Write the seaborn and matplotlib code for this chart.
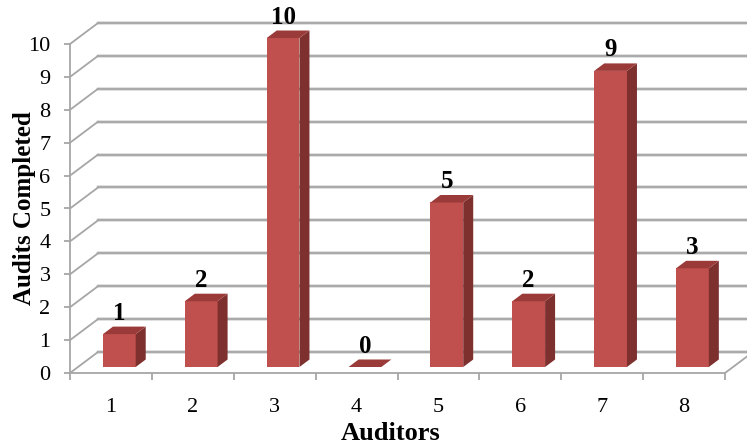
import matplotlib
matplotlib.use('Agg')
import matplotlib.pyplot as plt
from matplotlib.patches import Polygon
import seaborn as sns

# data
auditors = ['1', '2', '3', '4', '5', '6', '7', '8']
audits = [1, 2, 10, 0, 5, 2, 9, 3]
y_ticks = list(range(0, 11))

front_c = '#C0504D'
side_c = '#7D302E'
top_c = '#9A3B39'
grid_c = '#A6A6A6'

sns.set_theme(style='white')
plt.rcParams['font.family'] = ['Liberation Serif', 'DejaVu Serif']

W, H = 747, 448
fig = plt.figure(figsize=(W / 100, H / 100), dpi=100)
ax = fig.add_axes([70 / W, 75 / H, 655 / W, 329 / H])

sns.barplot(x=auditors, y=audits, color=front_c, width=0.4, saturation=1, ax=ax, zorder=3)
ax.set_xlim(-0.5, 7.5)
ax.set_ylim(0, 10)

# pixel -> data unit helpers (axes size fixed above)
ux = 655 / 8
uy = 329 / 10
wall_dx, wall_dy = 28 / ux, 21 / uy      # depth of the 3d box
bar_ox, bar_oy = 8.4 / ux, 6 / uy        # bar front offset into the box
bar_dx, bar_dy = 10 / ux, 7.5 / uy       # bar depth

# back wall + left wall gridlines
for v in y_ticks:
    ax.plot([-0.5 + wall_dx, 7.5 + wall_dx], [v + wall_dy, v + wall_dy],
            color='#D9D9D9', lw=2.6, clip_on=False, zorder=0)
    ax.plot([-0.5 + wall_dx, 7.5 + wall_dx], [v + wall_dy, v + wall_dy],
            color=grid_c, lw=1.3, clip_on=False, zorder=1)
    ax.plot([-0.5, -0.5 + wall_dx], [v, v + wall_dy],
            color=grid_c, lw=1.3, clip_on=False, zorder=1)
ax.plot([7.5, 7.5 + wall_dx], [0, wall_dy], color=grid_c, lw=1.3, clip_on=False, zorder=1)

# pseudo 3d bars
for patch, val in zip(ax.patches, audits):
    x0 = patch.get_x() + bar_ox
    w = patch.get_width()
    h = patch.get_height()
    x1 = x0 + w
    y0 = bar_oy
    patch.set_x(x0)
    patch.set_y(y0)
    patch.set_edgecolor('none')
    patch.set_clip_on(False)
    side = Polygon([(x1, y0), (x1 + bar_dx, y0 + bar_dy), (x1 + bar_dx, y0 + h + bar_dy), (x1, y0 + h)],
                   closed=True, facecolor=side_c, edgecolor='none', zorder=3, clip_on=False)
    top = Polygon([(x0, y0 + h), (x1, y0 + h), (x1 + bar_dx, y0 + h + bar_dy), (x0 + bar_dx, y0 + h + bar_dy)],
                  closed=True, facecolor=top_c, edgecolor='none', zorder=3, clip_on=False)
    ax.add_patch(side)
    ax.add_patch(top)
    ax.text(x0 + w / 2, y0 + h + bar_dy + 7 / uy, str(val), ha='center', va='baseline',
            fontsize=18, fontweight='bold', color='black', clip_on=False)

# axes styling
sns.despine(ax=ax, top=True, right=True)
for s in ['left', 'bottom']:
    ax.spines[s].set_color(grid_c)
    ax.spines[s].set_linewidth(1.3)
ax.set_yticks(y_ticks)
ax.set_xticks(range(len(auditors)))
ax.set_xticks([i - 0.5 for i in range(len(auditors) + 1)], minor=True)
ax.tick_params(axis='y', which='major', left=True, length=4, width=1.3, color=grid_c,
               labelsize=16, pad=10, labelcolor='black')
ax.tick_params(axis='x', which='major', bottom=False, length=0, labelsize=16, pad=18, labelcolor='black')
ax.tick_params(axis='x', which='minor', bottom=True, length=5, width=1.3, color=grid_c)

ax.set_xlabel('Auditors', fontsize=19, fontweight='bold', color='black')
ax.set_ylabel('Audits Completed', fontsize=18, fontweight='bold', color='black')
ax.xaxis.set_label_coords(0.5 - 7 / 655, -49 / 329)
ax.yaxis.set_label_coords(-34 / 655, 0.5)
ax.grid(False)

fig.savefig('out.png', dpi=100)
